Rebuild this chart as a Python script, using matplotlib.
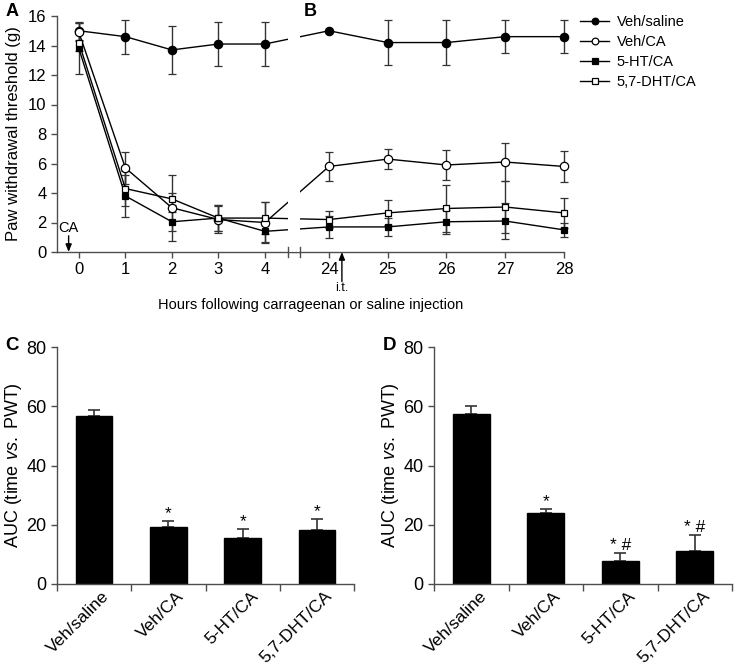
import numpy as np
import matplotlib
matplotlib.use("Agg")
import matplotlib.pyplot as plt
import matplotlib.transforms as mtransforms
from matplotlib.lines import Line2D

plt.rcParams['font.family'] = ['Liberation Sans', 'DejaVu Sans']
plt.rcParams['mathtext.fontset'] = 'custom'
plt.rcParams['mathtext.rm'] = 'Liberation Sans'
plt.rcParams['mathtext.it'] = 'Liberation Sans:italic'

# ---- data: time course (A/B) ----
hours = [0, 1, 2, 3, 4, 24, 25, 26, 27, 28]
groups = ['Veh/saline', 'Veh/CA', '5-HT/CA', '5,7-DHT/CA']

veh_saline = [15.0, 14.6, 13.7, 14.1, 14.1, 15.0, 14.2, 14.2, 14.6, 14.6]
veh_saline_err = [0.6, 1.15, 1.6, 1.5, 1.5, 0.0, 1.5, 1.5, 1.1, 1.1]
veh_ca = [14.9, 5.7, 3.0, 2.2, 2.0, 5.8, 6.3, 5.9, 6.1, 5.8]
veh_ca_err = [0.6, 1.1, 2.25, 0.9, 1.4, 1.0, 0.7, 1.0, 1.3, 1.05]
ht_ca = [13.8, 3.8, 2.05, 2.3, 1.4, 1.7, 1.7, 2.05, 2.1, 1.5]
ht_ca_err = [1.7, 1.4, 0.65, 0.9, 0.7, 0.75, 0.6, 0.8, 1.25, 0.5]
dht_ca = [14.2, 4.3, 3.6, 2.3, 2.3, 2.2, 2.65, 2.95, 3.05, 2.65]
dht_ca_err = [0.6, 1.2, 0.4, 0.9, 1.1, 0.6, 0.85, 1.6, 1.75, 1.0]

# ---- data: AUC (C/D) ----
auc_c = [56.8, 19.3, 15.6, 18.3]
auc_c_err = [1.9, 1.9, 3.0, 3.5]
auc_c_sig = ['', '*', '*', '*']
auc_d = [57.4, 24.1, 7.6, 11.0]
auc_d_err = [2.6, 1.2, 2.8, 5.4]
auc_d_sig = ['', '*', '* #', '* #']

spine_col = '#4d4d4d'
err_col = '#333333'


# broken time axis: 0-4 h and 24-28 h
def fwd(h):
    h = np.asarray(h, dtype=float)
    return np.where(h <= 4.5, h,
                    np.where(h >= 23.5, 4.745 + (h - 23.5) * 1.263,
                             4.5 + (h - 4.5) * (0.245 / 19.0)))


def inv(p):
    p = np.asarray(p, dtype=float)
    return np.where(p <= 4.5, p,
                    np.where(p >= 4.745, 23.5 + (p - 4.745) / 1.263,
                             4.5 + (p - 4.5) * (19.0 / 0.245)))


fig = plt.figure(figsize=(7.35, 6.67), dpi=100)

ax = fig.add_axes([57 / 735, 1 - 252 / 667, (564 - 57) / 735, (252 - 16) / 667])
ax.set_xscale('function', functions=(fwd, inv))
ax.set_xlim(-0.47, 28)
ax.set_ylim(0, 16)

series = [(veh_saline, veh_saline_err, 'o', 'black'),
          (veh_ca, veh_ca_err, 'o', 'white'),
          (ht_ca, ht_ca_err, 's', 'black'),
          (dht_ca, dht_ca_err, 's', 'white')]
handles = []
for (vals, errs, mk, fc), name in zip(series, groups):
    ms = 6 if mk == 'o' else 5
    ax.errorbar(hours, vals, yerr=errs, fmt='-', color='black', lw=1.0,
                marker=mk, ms=ms, mfc=fc, mec='black', mew=0.9,
                ecolor=err_col, elinewidth=1.0, capsize=3, capthick=1.0,
                clip_on=False, zorder=2)
    handles.append(Line2D([], [], color='black', lw=1.0, marker=mk,
                          ms=ms * 0.8, mfc=fc, mec='black', mew=0.9))

# white gap where the axis is broken
ax.axvspan(4.5, 23.5, color='white', zorder=3, lw=0)
ax.plot([4.5, 23.5], [0, 0], ls=(0, (1, 1.5)), color=spine_col, lw=1.0,
        clip_on=False, zorder=4)
for xb in (4.5, 23.5):
    ax.plot([xb, xb], [-0.35, 0.35], color=spine_col, lw=1.0,
            clip_on=False, zorder=4)

ax.spines['top'].set_visible(False)
ax.spines['right'].set_visible(False)
for s in ('left', 'bottom'):
    ax.spines[s].set_color(spine_col)
    ax.spines[s].set_linewidth(1.0)
ax.set_xticks(hours)
ax.set_xticklabels([str(h) for h in hours])
ax.set_yticks(np.arange(0, 17, 2))
ax.tick_params(axis='both', colors=spine_col, labelcolor='black',
               labelsize=12, length=4, width=1.0)
ax.set_ylabel('Paw withdrawal threshold (g)', fontsize=12, labelpad=5)
ax.set_xlabel('Hours following carrageenan or saline injection',
              fontsize=10.5, labelpad=15)

# CA and i.t. arrows
ax.annotate('', xy=(-0.22, 0), xytext=(-0.22, 1.1),
            arrowprops=dict(arrowstyle='-|>,head_width=0.18,head_length=0.45',
                            color='black', lw=1.0, shrinkA=0, shrinkB=0))
ax.text(-0.22, 1.15, 'CA', ha='center', va='bottom', fontsize=10.5)
ax.annotate('', xy=(24.22, 0), xytext=(24.22, -2.0),
            arrowprops=dict(arrowstyle='-|>,head_width=0.18,head_length=0.45',
                            color='black', lw=1.0, shrinkA=0, shrinkB=0),
            annotation_clip=False)
ax.text(24.22, -2.05, 'i.t.', ha='center', va='top', fontsize=9)

fig.legend(handles, groups, loc='upper left', bbox_to_anchor=(580 / 735, 1 - 15 / 667),
           frameon=False, fontsize=10.5, handlelength=2.0, handletextpad=0.5,
           labelspacing=0.42, borderaxespad=0, borderpad=0)

fig.text(6 / 735, 1 - 12 / 667, 'A', fontsize=13, fontweight='bold', va='center')
fig.text(304 / 735, 1 - 12 / 667, 'B', fontsize=13, fontweight='bold', va='center')


def auc_panel(rect, vals, errs, sig, letter, letter_x):
    a = fig.add_axes(rect)
    x = np.arange(len(groups))
    a.bar(x, vals, width=0.49, color='black', edgecolor='black', zorder=2)
    a.errorbar(x, vals, yerr=[[0] * len(vals), errs], fmt='none',
               ecolor=err_col, elinewidth=1.2, capsize=4.5, capthick=1.2, zorder=1)
    for xi, v, e, s in zip(x, vals, errs, sig):
        if s:
            a.annotate(s, (xi, v + e), xytext=(0, 0), textcoords='offset points',
                       ha='center', va='bottom', fontsize=12.5)
    a.set_xlim(-0.5, 3.5)
    a.set_ylim(0, 80)
    a.set_yticks([0, 20, 40, 60, 80])
    a.set_xticks(x)
    a.set_xticklabels(groups, rotation=45, ha='right', va='center',
                      rotation_mode='anchor', fontsize=12.5)
    a.tick_params(axis='x', length=0)
    a.set_xticks(np.arange(-0.5, 4, 1), minor=True)
    a.tick_params(axis='x', which='minor', length=5, width=1.0, colors=spine_col)
    a.tick_params(axis='y', length=4, width=1.0, colors=spine_col,
                  labelcolor='black', labelsize=13)
    # shift the slanted labels (after tick_params, which resets transforms)
    off = mtransforms.ScaledTranslation(13 / 100, -5 / 100, fig.dpi_scale_trans)
    for lab in a.get_xticklabels():
        lab.set_transform(lab.get_transform() + off)
    a.spines['top'].set_visible(False)
    a.spines['right'].set_visible(False)
    for s in ('left', 'bottom'):
        a.spines[s].set_color(spine_col)
        a.spines[s].set_linewidth(1.0)
    a.set_ylabel(r'AUC (time $\mathit{vs.}$ PWT)', fontsize=13, labelpad=2)
    fig.text(letter_x / 735, 1 - 345 / 667, letter, fontsize=13.5,
             fontweight='bold', va='center')
    return a


auc_panel([57 / 735, 1 - 584 / 667, (354 - 57) / 735, (584 - 347) / 667],
          auc_c, auc_c_err, auc_c_sig, 'C', 5)
auc_panel([434 / 735, 1 - 584 / 667, (732 - 434) / 735, (584 - 347) / 667],
          auc_d, auc_d_err, auc_d_sig, 'D', 383)

fig.savefig('out.png', dpi=100)
